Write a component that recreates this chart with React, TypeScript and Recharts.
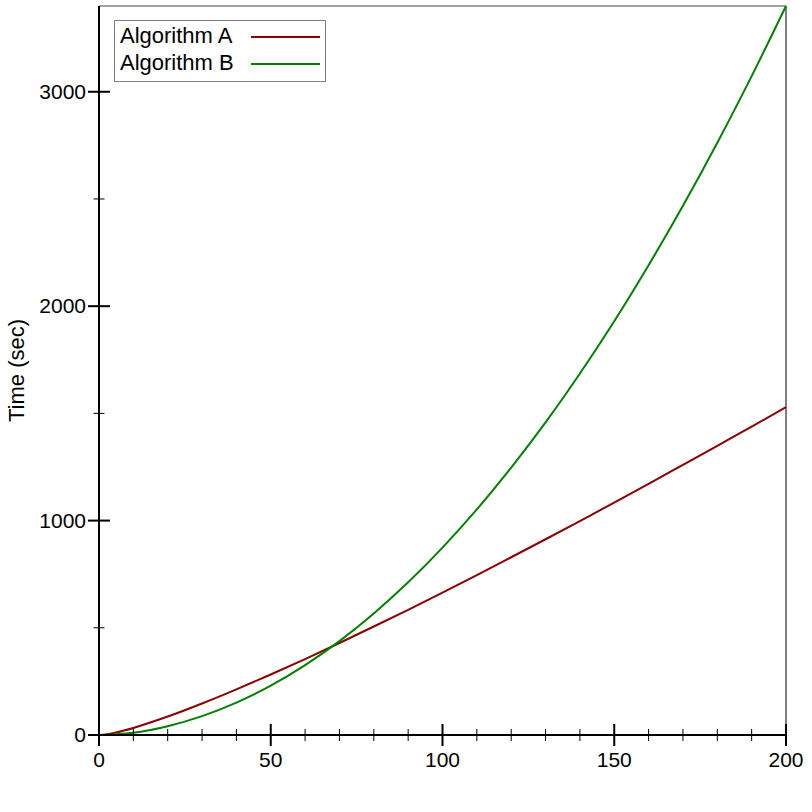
import { Line, LineChart, XAxis, YAxis, ReferenceLine } from "recharts";

const sizes = [0, 2, 5, 10, 20, 30, 40, 50, 60, 70, 80, 90, 100, 110, 120, 130, 140, 150, 160, 170, 180, 190, 200];
const algorithmA = [0, 2, 12, 33, 86, 147, 213, 282, 354, 429, 506, 584, 664, 746, 829, 913, 998, 1084, 1171, 1260, 1349, 1438, 1529];
const algorithmB = [0, 0, 3, 10, 41, 88, 151, 230, 326, 438, 567, 712, 874, 1052, 1247, 1458, 1686, 1930, 2191, 2468, 2762, 3073, 3400];

const xTicks = [0, 10, 20, 30, 40, 50, 60, 70, 80, 90, 100, 110, 120, 130, 140, 150, 160, 170, 180, 190, 200];
const xLabels = [0, 50, 100, 150, 200];
const yTicks = [0, 500, 1000, 1500, 2000, 2500, 3000];
const yLabels = [0, 1000, 2000, 3000];

const data = sizes.map((n, i) => ({ n, a: algorithmA[i], b: algorithmB[i] }));

const FONT = "'Liberation Sans', Arial, Helvetica, sans-serif";
const RED = "#8b0000";
const GREEN = "#008000";

function XTick({ x, y, payload }: any) {
  const v = payload.value;
  const major = xLabels.includes(v);
  const len = major ? 11 : 6;
  return (
    <g>
      <line x1={x} x2={x} y1={y - len} y2={y + len} stroke="#000" strokeWidth={major ? 2 : 1} />
      {major && (
        <text x={x} y={y + 32} textAnchor="middle" fontSize={21} fontFamily={FONT} fill="#000">
          {v}
        </text>
      )}
    </g>
  );
}

function YTick({ x, y, payload }: any) {
  const v = payload.value;
  const major = yLabels.includes(v);
  const len = major ? 11 : 5.5;
  return (
    <g>
      <line x1={x - len} x2={x + len} y1={y} y2={y} stroke="#000" strokeWidth={major ? 2 : 1} />
      {major && (
        <text x={x - 13} y={y + 7} textAnchor="end" fontSize={21} fontFamily={FONT} fill="#000">
          {v}
        </text>
      )}
    </g>
  );
}

function YLabel({ viewBox }: any) {
  const cx = 16;
  const cy = viewBox.y + viewBox.height / 2;
  return (
    <text x={cx} y={cy} transform={`rotate(-90 ${cx} ${cy})`} textAnchor="middle" dominantBaseline="central" fontSize={22} fontFamily={FONT} fill="#000">
      Time (sec)
    </text>
  );
}

export default function App() {
  return (
    <div style={{ position: "fixed", left: 0, top: 0, width: 812, height: 812, background: "#fff" }}>
      <LineChart width={812} height={812} data={data} margin={{ top: 6, right: 26, bottom: 0, left: 0 }}>
        <XAxis
          dataKey="n"
          type="number"
          domain={[0, 200]}
          ticks={xTicks}
          interval={0}
          height={77}
          tickSize={0}
          tickMargin={0}
          tickLine={false}
          axisLine={{ stroke: "#000", strokeWidth: 2 }}
          tick={<XTick />}
        />
        <YAxis
          type="number"
          domain={[0, 3400]}
          ticks={yTicks}
          interval={0}
          width={99}
          tickSize={0}
          tickMargin={0}
          tickLine={false}
          axisLine={{ stroke: "#000", strokeWidth: 2 }}
          tick={<YTick />}
          label={<YLabel />}
        />
        <ReferenceLine y={3400} stroke="#808080" strokeWidth={1.5} />
        <ReferenceLine x={200} stroke="#808080" strokeWidth={2} />
        <Line dataKey="a" type="monotone" stroke={RED} strokeWidth={2} dot={false} isAnimationActive={false} />
        <Line dataKey="b" type="monotone" stroke={GREEN} strokeWidth={2} dot={false} isAnimationActive={false} />
      </LineChart>
      <div
        style={{
          position: "absolute",
          left: 114,
          top: 20,
          width: 210,
          height: 60,
          border: "1px solid #808080",
          background: "#fff",
          fontFamily: FONT,
          fontSize: 22,
          color: "#000",
        }}
      >
        {[
          { name: "Algorithm A", color: RED, top: 3 },
          { name: "Algorithm B", color: GREEN, top: 30 },
        ].map((item) => (
          <div key={item.name} style={{ position: "absolute", left: 5, top: item.top, height: 24, lineHeight: "24px", whiteSpace: "nowrap" }}>
            {item.name}
            <span style={{ position: "absolute", left: 131, top: 12, width: 69, height: 2, background: item.color }} />
          </div>
        ))}
      </div>
    </div>
  );
}
